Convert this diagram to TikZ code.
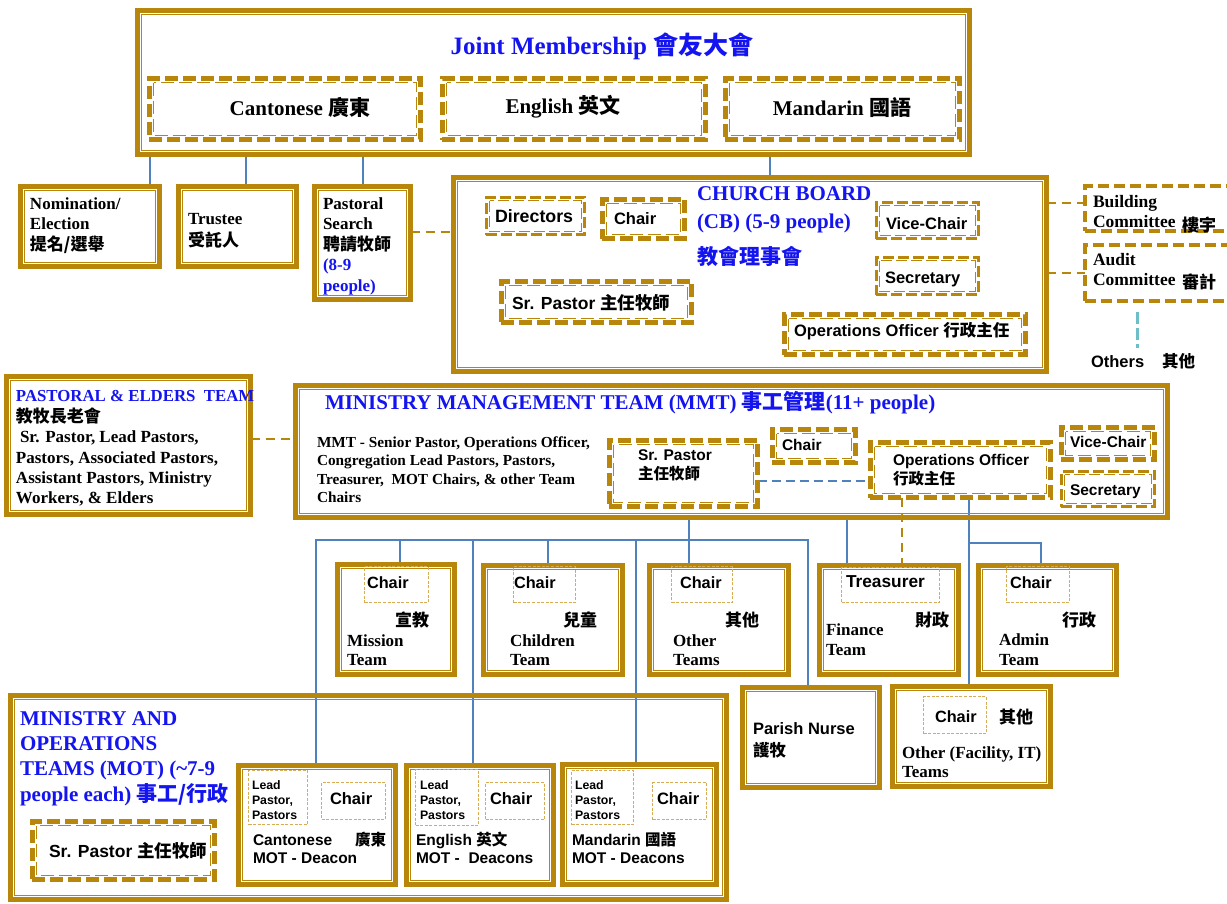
\documentclass[tikz,border=0pt]{standalone}
\usepackage{fontspec}
\setmainfont{Liberation Serif}
\setsansfont{Liberation Sans}
\newfontfamily\cjk{Noto Sans CJK TC}
\usetikzlibrary{backgrounds,calc}
\definecolor{gold}{RGB}{184,134,11}
\definecolor{lgold}{RGB}{214,172,84}
\definecolor{lblue}{RGB}{79,129,189}
\definecolor{tblue}{RGB}{20,20,240}
\definecolor{cyanl}{RGB}{110,190,200}
\newcommand\zh[1]{{\cjk #1}}
\newcommand\mkbox[7][2.3]{%
 \pgfmathsetmacro\mbw{#6-#4-2*#1}%
 \pgfmathsetmacro\mbh{#7-#5-2*#1}%
 \pgfmathsetmacro\mbcx{(#4+#6)/2}%
 \pgfmathsetmacro\mbcy{(#5+#7)/2}%
 \node[#2, minimum width=\mbw pt, minimum height=\mbh pt, inner sep=0pt, outer sep=0pt] (#3) at (\mbcx,\mbcy) {};}
\newcommand\tx[5][]{\pgfmathsetmacro\tyy{#4+3.8}\node[txt,#1] (#2) at (#3,\tyy) {#5};}
\tikzset{
 frame/.style={draw=gold, line width=4.6pt, path picture={\draw[gold, line width=1.2pt, solid] ([shift={(4.2pt,-4.2pt)}]path picture bounding box.north west) rectangle ([shift={(-4.2pt,4.2pt)}]path picture bounding box.south east);}},
 dframe/.style={draw=gold, line width=4.6pt, dash pattern=on 13pt off 5pt, path picture={\draw[gold, line width=1.2pt, dash pattern=on 13pt off 5pt] ([shift={(4.2pt,-4.2pt)}]path picture bounding box.north west) rectangle ([shift={(-4.2pt,4.2pt)}]path picture bounding box.south east);}},
 dframet/.style={draw=gold, line width=3.2pt, dash pattern=on 11pt off 4pt, path picture={\draw[gold, line width=1pt, dash pattern=on 11pt off 4pt] ([shift={(3.4pt,-3.4pt)}]path picture bounding box.north west) rectangle ([shift={(-3.4pt,3.4pt)}]path picture bounding box.south east);}},
 sdash/.style={draw=gold, line width=4pt, dash pattern=on 11pt off 5pt},
 tbox/.style={draw=lgold, line width=1.1pt, dash pattern=on 3pt off 1.6pt},
 bl/.style={draw=lblue, line width=2.4pt},
 gd/.style={draw=gold, line width=2.8pt, dash pattern=on 9pt off 6pt},
 cy/.style={draw=cyanl, line width=3pt, dash pattern=on 12pt off 4pt},
 txt/.style={anchor=mid west, inner sep=0pt, outer sep=0pt},
 srb/.style={font=\fontsize{17}{19}\selectfont\bfseries},
 srm/.style={font=\fontsize{15.3}{17}\selectfont\bfseries},
 ssb/.style={font=\fontsize{16.5}{18}\selectfont\sffamily\bfseries},
 ssm/.style={font=\fontsize{15.5}{17}\selectfont\sffamily\bfseries},
 ssc/.style={font=\fontsize{16.3}{18}\selectfont\sffamily\bfseries},
 ssl/.style={font=\fontsize{12.3}{14}\selectfont\sffamily\bfseries},
 ssd/.style={font=\fontsize{15.5}{17}\selectfont\sffamily\bfseries},
 zhb/.style={font=\fontsize{17}{19}\selectfont\bfseries},
 ttl/.style={font=\fontsize{21}{23}\selectfont\bfseries, text=tblue},
}
\begin{document}
\begin{tikzpicture}[x=1pt,y=-1pt]
\clip (0,0) rectangle (1227,903);
% ---------- boxes ----------
\mkbox{frame}{jm}{135}{8}{972}{157}
\mkbox{dframe}{jmc}{147}{76}{423}{142}
\mkbox{dframe}{jme}{440}{76}{708}{142}
\mkbox{dframe}{jmm}{723}{76}{962}{142}
\mkbox{frame}{nom}{18}{184}{162}{269}
\mkbox{frame}{tru}{176}{184}{299}{269}
\mkbox{frame}{pas}{312}{184}{413}{302}
\mkbox{frame}{cb}{451}{175}{1049}{374}
\mkbox{dframet}{dir}{484}{195}{587}{237}
\mkbox{dframe}{cbch}{600}{197}{687}{241}
\mkbox{dframet}{cbvc}{874}{200}{981}{241}
\mkbox{dframet}{cbsec}{874}{255}{981}{297}
\mkbox{dframe}{cbsp}{499}{279}{694}{325}
\mkbox{dframe}{cbop}{782}{312}{1028}{357}
\mkbox{sdash}{bld}{1083}{184}{1245}{233}
\mkbox{sdash}{aud}{1083}{243}{1245}{303}
\mkbox{frame}{pet}{4}{374}{253}{517}
\mkbox{frame}{mmt}{293}{383}{1170}{520}
\mkbox{dframe}{msp}{607}{438}{760}{509}
\mkbox{dframe}{mch}{770}{427}{858}{465}
\mkbox{dframe}{mop}{868}{440}{1053}{500}
\mkbox{dframe}{mvc}{1059}{425}{1157}{462}
\mkbox{dframet}{msec}{1059}{469}{1157}{509}
\mkbox{frame}{mis}{335}{562}{457}{677}
\mkbox[0.5]{tbox}{misc}{364}{566}{429}{603}
\mkbox{frame}{chi}{481}{563}{625}{677}
\mkbox[0.5]{tbox}{chic}{513}{566}{576}{603}
\mkbox{frame}{oth}{647}{563}{791}{677}
\mkbox[0.5]{tbox}{othc}{671}{566}{733}{603}
\mkbox{frame}{fin}{817}{563}{961}{677}
\mkbox[0.5]{tbox}{finc}{841}{567}{940}{603}
\mkbox{frame}{adm}{976}{563}{1119}{677}
\mkbox[0.5]{tbox}{admc}{1006}{566}{1070}{603}
\mkbox{frame}{par}{740}{685}{882}{790}
\mkbox{frame}{ofa}{890}{684}{1053}{789}
\mkbox[0.5]{tbox}{ofac}{923}{696}{987}{734}
\mkbox{frame}{mot}{8}{693}{729}{902}
\mkbox{dframe}{msr}{30}{819}{217}{882}
\mkbox{frame}{mca}{236}{763}{398}{887}
\mkbox[0.5]{tbox}{mcal}{248}{770}{308}{825}
\mkbox[0.5]{tbox}{mcac}{321}{782}{386}{820}
\mkbox{frame}{men}{404}{763}{556}{887}
\mkbox[0.5]{tbox}{menl}{415}{769}{479}{826}
\mkbox[0.5]{tbox}{menc}{485}{782}{545}{820}
\mkbox{frame}{mma}{560}{762}{719}{887}
\mkbox[0.5]{tbox}{mmal}{571}{770}{634}{825}
\mkbox[0.5]{tbox}{mmac}{652}{782}{707}{820}
% ---------- connectors ----------
\coordinate (bus) at (0,540);
\coordinate (abr) at (0,543);
\coordinate (cyA) at (1137,312);
\coordinate (cyB) at (1137,348);
\begin{pgfonlayer}{background}
\fill[white] (0,0) rectangle (1227,903);
\draw[bl] (150,0 |- jm.south) -- (150,0 |- nom.north);
\draw[bl] (246,0 |- jm.south) -- (246,0 |- tru.north);
\draw[bl] (363,0 |- jm.south) -- (363,0 |- pas.north);
\draw[bl] (770,0 |- jm.south) -- (770,0 |- cb.north);
\draw[gd] (pas.east |- 0,232) -- (cb.west |- 0,232);
\draw[gd] (cb.east |- 0,203) -- (bld.west |- 0,203);
\draw[gd] (cb.east |- 0,273) -- (aud.west |- 0,273);
\draw[cy] (cyA) -- (cyB);
\draw[gd] (pet.east |- 0,439) -- (mmt.west |- 0,439);
\draw[bl, dash pattern=on 9pt off 5pt] (msp.east |- 0,481) -- (mop.west |- 0,481);
\draw[bl] (689,0 |- mmt.south) -- (689,0 |- oth.north);
\draw[bl] (316,0 |- mca.north) -- (316,0 |- bus) -- (808,0 |- bus) -- (808,0 |- par.north);
\draw[bl] (400,0 |- bus) -- (400,0 |- mis.north);
\draw[bl] (473,0 |- bus) -- (473,0 |- men.north);
\draw[bl] (548,0 |- bus) -- (548,0 |- chi.north);
\draw[bl] (636,0 |- bus) -- (636,0 |- mma.north);
\draw[bl] (847,0 |- mmt.south) -- (847,0 |- fin.north);
\draw[gd] (902,0 |- mop.south) -- (902,0 |- fin.north);
\draw[bl] (969,0 |- mop.south) -- (969,0 |- ofa.north);
\draw[bl] (969,0 |- abr) -- (1041,0 |- abr) -- (1041,0 |- adm.north);
\end{pgfonlayer}
% ---------- texts ----------
\node[inner sep=0pt, font=\fontsize{25}{28}\selectfont\bfseries, text=tblue] (tjm) at (602,46) {Joint Membership \zh{會友大會}};
\node[inner sep=0pt, font=\fontsize{21}{23}\selectfont\bfseries] (tjmc) at (300,107) {Cantonese \zh{廣東}};
\node[inner sep=0pt, font=\fontsize{21}{23}\selectfont\bfseries] (tjme) at (563,107) {English \zh{英文}};
\node[inner sep=0pt, font=\fontsize{21}{23}\selectfont\bfseries] (tjmm) at (842,107) {Mandarin \zh{國語}};
% row 2
\tx[srb]{n1}{30}{203}{Nomination/}
\tx[srb]{n2}{30}{223}{Election}
\tx[srb]{n3}{30}{244}{\zh{提名/選舉}}
\tx[srb]{t1}{188}{218}{Trustee}
\tx[srb]{t2}{188}{240}{\zh{受託人}}
\tx[srb]{p1}{323}{203}{Pastoral}
\tx[srb]{p2}{323}{223}{Search}
\tx[srb]{p3}{323}{244}{\zh{聘請牧師}}
\tx[srb,text=tblue]{p4}{323}{264}{(8-9}
\tx[srb,text=tblue]{p5}{323}{285}{people)}
% church board
\tx[ttl]{cb1}{697}{194}{CHURCH BOARD}
\tx[ttl]{cb2}{697}{222}{(CB) (5-9 people)}
\tx[ttl]{cb3}{697}{258}{\zh{教會理事會}}
\tx[ssb,font=\fontsize{17.8}{19}\selectfont\sffamily\bfseries]{cbt1}{495}{216}{Directors}
\tx[ssb]{cbt2}{614}{218}{Chair}
\tx[ssb]{cbt3}{886}{223}{Vice-Chair}
\tx[ssb]{cbt4}{885}{277}{Secretary}
\tx[ssb,font=\fontsize{17.5}{19}\selectfont\sffamily\bfseries]{cbt5}{512}{303}{Sr. Pastor \zh{主任牧師}}
\tx[ssb]{cbt6}{794}{330}{Operations Officer \zh{行政主任}}
\tx[srb,font=\fontsize{17.5}{19}\selectfont\bfseries]{b1}{1093}{201}{Building}
\tx[srb,font=\fontsize{17.5}{19}\selectfont\bfseries]{b2}{1093}{221}{Committee}
\tx[srb]{b3}{1182}{225}{\zh{樓宇}}
\tx[srb,font=\fontsize{17.5}{19}\selectfont\bfseries]{a1}{1093}{259}{Audit}
\tx[srb,font=\fontsize{17.5}{19}\selectfont\bfseries]{a2}{1093}{279}{Committee}
\tx[srb]{a3}{1182}{282}{\zh{審計}}
\tx[ssb]{o1}{1091}{361}{Others}
\tx[ssb]{o2}{1162}{361}{\zh{其他}}
% pastoral & elders
\tx[srb,font=\fontsize{16.8}{18}\selectfont\bfseries,text=tblue]{pe1}{16}{395}{PASTORAL \& ELDERS\ \ TEAM}
\tx[srb]{pe2}{16}{416}{\zh{教牧長老會}}
\tx[srb]{pe3}{20}{436}{Sr. Pastor, Lead Pastors,}
\tx[srb]{pe4}{16}{457}{Pastors, Associated Pastors,}
\tx[srb]{pe5}{16}{477}{Assistant Pastors, Ministry}
\tx[srb]{pe6}{16}{497}{Workers, \& Elders}
% MMT
\tx[ttl]{mt}{325}{403}{MINISTRY MANAGEMENT TEAM (MMT) \zh{事工管理}(11+ people)}
\tx[srm]{md1}{317}{441}{MMT - Senior Pastor, Operations Officer,}
\tx[srm]{md2}{317}{459}{Congregation Lead Pastors, Pastors,}
\tx[srm]{md3}{317}{478}{Treasurer,\ \ MOT Chairs, \& other Team}
\tx[srm]{md4}{317}{496}{Chairs}
\tx[ssm]{ms1}{638}{454}{Sr. Pastor}
\tx[ssm]{ms2}{638}{473}{\zh{主任牧師}}
\tx[ssm]{mc1}{782}{444}{Chair}
\tx[ssm]{mo1}{893}{459}{Operations Officer}
\tx[ssm]{mo2}{893}{478}{\zh{行政主任}}
\tx[ssm]{mv1}{1070}{441}{Vice-Chair}
\tx[ssm]{mv2}{1070}{489}{Secretary}
% teams
\tx[ssc]{tm1}{367}{582}{Chair}
\tx[zhb]{tm2}{395}{620}{\zh{宣教}}
\tx[srb]{tm3}{347}{640}{Mission}
\tx[srb]{tm4}{347}{659}{Team}
\tx[ssc]{tc1}{514}{582}{Chair}
\tx[zhb]{tc2}{563}{620}{\zh{兒童}}
\tx[srb]{tc3}{510}{640}{Children}
\tx[srb]{tc4}{510}{659}{Team}
\tx[ssc]{to1}{680}{582}{Chair}
\tx[zhb]{to2}{725}{620}{\zh{其他}}
\tx[srb]{to3}{673}{640}{Other}
\tx[srb]{to4}{673}{659}{Teams}
\tx[ssc,font=\fontsize{17.3}{19}\selectfont\sffamily\bfseries]{tf1}{846}{581}{Treasurer}
\tx[zhb]{tf2}{915}{620}{\zh{財政}}
\tx[srb]{tf3}{826}{629}{Finance}
\tx[srb]{tf4}{826}{649}{Team}
\tx[ssc]{ta1}{1010}{582}{Chair}
\tx[zhb]{ta2}{1062}{620}{\zh{行政}}
\tx[srb]{ta3}{999}{639}{Admin}
\tx[srb]{ta4}{999}{659}{Team}
\tx[ssb]{pn1}{753}{728}{Parish Nurse}
\tx[ssb]{pn2}{753}{750}{\zh{護牧}}
\tx[ssc]{of1}{935}{716}{Chair}
\tx[zhb]{of2}{999}{717}{\zh{其他}}
\tx[srb]{of3}{902}{752}{Other (Facility, IT)}
\tx[srb]{of4}{902}{771}{Teams}
% MOT
\tx[ttl]{mo1t}{20}{719}{MINISTRY AND}
\tx[ttl]{mo2t}{20}{744}{OPERATIONS}
\tx[ttl]{mo3t}{20}{769}{TEAMS (MOT) (\textasciitilde7-9}
\tx[ttl]{mo4t}{20}{795}{people each) \zh{事工/行政}}
\tx[ssb,font=\fontsize{17.5}{19}\selectfont\sffamily\bfseries]{msr1}{49}{851}{Sr. Pastor \zh{主任牧師}}
\tx[ssl]{cl1}{252}{783}{Lead}
\tx[ssl]{cl2}{252}{798}{Pastor,}
\tx[ssl]{cl3}{252}{813}{Pastors}
\tx[ssb]{cc}{330}{798}{Chair}
\tx[ssd]{cm1}{253}{839}{Cantonese}
\tx[ssd]{cm2}{355}{839}{\zh{廣東}}
\tx[ssd]{cm3}{253}{857}{MOT - Deacon}
\tx[ssl]{el1}{420}{783}{Lead}
\tx[ssl]{el2}{420}{798}{Pastor,}
\tx[ssl]{el3}{420}{813}{Pastors}
\tx[ssb]{ec}{490}{798}{Chair}
\tx[ssd]{em1}{416}{839}{English \zh{英文}}
\tx[ssd]{em3}{416}{857}{MOT -\ \ Deacons}
\tx[ssl]{ml1}{575}{783}{Lead}
\tx[ssl]{ml2}{575}{798}{Pastor,}
\tx[ssl]{ml3}{575}{813}{Pastors}
\tx[ssb]{mc}{657}{798}{Chair}
\tx[ssd]{mm1}{572}{839}{Mandarin \zh{國語}}
\tx[ssd]{mm3}{572}{857}{MOT - Deacons}
\end{tikzpicture}
\end{document}
